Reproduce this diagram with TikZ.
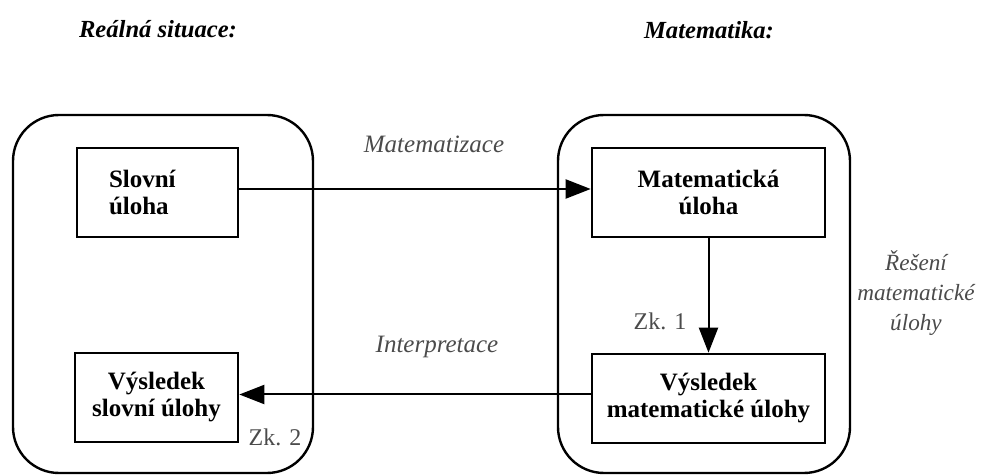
\documentclass[tikz,border=0pt]{standalone}
\usepackage{fontspec}
\setmainfont{Liberation Serif}
\usetikzlibrary{arrows.meta}
\definecolor{labelgray}{RGB}{75,75,75}
\begin{document}
\begin{tikzpicture}[x=0.5pt,y=-0.5pt,
  outerbox/.style={draw,line width=1.2pt,rounded corners=23pt},
  stepbox/.style={draw,line width=1.3pt,font=\fontsize{12.5}{13.5}\selectfont\bfseries,align=center,inner sep=0pt,minimum height=44.5pt},
  flow/.style={line width=1pt,-{Triangle[length=12.5pt,width=9.5pt]}},
  ilabel/.style={font=\fontsize{12.5}{15}\selectfont\itshape,text=labelgray,inner sep=0pt},
  zk/.style={font=\fontsize{12}{14}\selectfont,text=labelgray,inner sep=0pt},
  header/.style={font=\fontsize{12.3}{14}\selectfont\bfseries\itshape,inner sep=0pt}]
\useasboundingbox (0,0) rectangle (982,476);
% headers
\node[header,anchor=base] (h1) at (158,38) {Reálná situace:};
\node[header,anchor=base] (h2) at (709,39) {Matematika:};
% outer boxes
\draw[outerbox] (13,115) rectangle (313,473);
\draw[outerbox] (558,115) rectangle (850,473);
% inner boxes
\node[stepbox,align=left,text width=48.5pt,inner xsep=16pt] (slovni) at (157.5,192.5) {Slovní\\úloha};
\node[stepbox,minimum width=81.5pt] (vslovni) at (156.5,397.5) {Výsledek\\slovní úlohy};
\node[stepbox,minimum width=116.5pt] (mat) at (708.5,192.5) {Matematická\\úloha};
\node[stepbox,minimum width=116.5pt] (vmat) at (708.5,398.5) {Výsledek\\matematické úlohy};
% connectors
\draw[flow] ([yshift=1.75pt]slovni.east) -- ([yshift=1.75pt]slovni.east -| mat.west);
\draw[flow] (mat.south) -- (vmat.north);
\draw[flow] ([yshift=2pt]vmat.west) -- ([yshift=2pt]vmat.west -| vslovni.east);
% labels
\node[ilabel,anchor=base] (l1) at (434,153) {Matematizace};
\node[ilabel,anchor=base] (l2) at (437,353) {Interpretace};
\node[ilabel,align=center,font=\fontsize{11.6}{15}\selectfont\itshape] (l3) at (916,293) {Řešení\\matematické\\úlohy};
\node[zk,anchor=base] (z1) at (660,330) {Zk. 1};
\node[zk,anchor=base] (z2) at (275,445) {Zk. 2};
\end{tikzpicture}
\end{document}
